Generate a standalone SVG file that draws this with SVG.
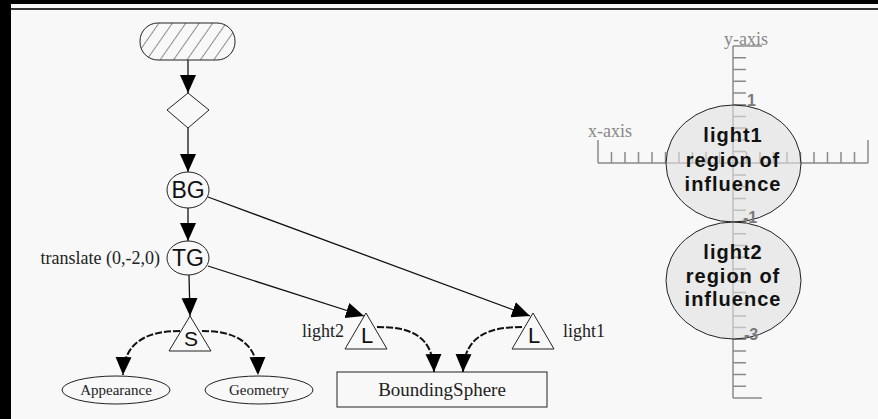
<svg xmlns="http://www.w3.org/2000/svg" width="878" height="419" viewBox="0 0 878 419">
<defs>
<pattern id="hatch" width="11" height="11" patternUnits="userSpaceOnUse" patternTransform="rotate(35)">
<line x1="0" y1="0" x2="0" y2="11" stroke="#222" stroke-width="1"/>
</pattern>
<marker id="arr" markerUnits="userSpaceOnUse" markerWidth="18" markerHeight="18" viewBox="0 0 18 16" refX="18" refY="8" orient="auto">
<path d="M0,0 L18,8 L0,16 Z" fill="#000"/>
</marker>
<style>
.n{fill:none;stroke:#222;stroke-width:1}
.e{fill:none;stroke:#111;stroke-width:1.3}
.d{fill:none;stroke:#111;stroke-width:2;stroke-dasharray:7 2}
.lbl{font-family:"Liberation Sans",Arial,sans-serif;fill:#111;text-anchor:middle}
.ser{font-family:"Liberation Serif","Times New Roman",serif;fill:#222}
.ax{fill:none;stroke:#8a8a8a;stroke-width:1.5}
.axt{font-family:"Liberation Serif","Times New Roman",serif;fill:#888;font-size:18px}
.num{font-family:"Liberation Sans",Arial,sans-serif;font-weight:bold;fill:#7a7a7a;font-size:16px}
.reg{fill:#dfe1df;fill-opacity:0.6;stroke:#222;stroke-width:1}
.rt{font-family:"Liberation Sans",Arial,sans-serif;font-weight:bold;font-size:20px;letter-spacing:1px;fill:#111;text-anchor:middle}
</style>
</defs>
<rect x="0" y="0" width="878" height="419" fill="#f8f8f8"/>
<rect x="0" y="0" width="878" height="4" fill="#000"/>
<rect x="0" y="0" width="11" height="419" fill="#000"/>
<line x1="11" y1="9" x2="878" y2="9" stroke="#333" stroke-width="2"/>

<g id="connectors">
<line class="e" x1="188" y1="60" x2="188" y2="93" marker-end="url(#arr)"/>
<line class="e" x1="188" y1="128" x2="188" y2="172" marker-end="url(#arr)"/>
<line class="e" x1="188" y1="208" x2="188" y2="241" marker-end="url(#arr)"/>
<line class="e" x1="189" y1="275" x2="190" y2="316" marker-end="url(#arr)"/>
<line class="e" x1="208" y1="266" x2="364" y2="316" marker-end="url(#arr)"/>
<line class="e" x1="208" y1="197" x2="530" y2="316" marker-end="url(#arr)"/>
<path class="d" d="M180,331 C150,331 124,340 123,375" marker-end="url(#arr)"/>
<path class="d" d="M202,331 C232,331 257,340 258,375" marker-end="url(#arr)"/>
<path class="d" d="M377,327 C410,327 433,335 434,372" marker-end="url(#arr)"/>
<path class="d" d="M522,327 C490,327 464,335 463,372" marker-end="url(#arr)"/>
</g>

<g id="start">
<rect x="140" y="23" width="95" height="37" rx="18" fill="url(#hatch)" stroke="#222" stroke-width="1"/>
</g>
<g id="diamond">
<polygon class="n" fill="#fff" points="188,93 209,110 188,128 167,110"/>
</g>
<g id="BG">
<ellipse cx="188" cy="190" rx="21" ry="18" fill="#f8f8f8" stroke="#222"/>
<text class="lbl" x="188" y="198" font-size="23">BG</text>
</g>
<g id="TG">
<ellipse cx="188" cy="258" rx="21" ry="17" fill="#f8f8f8" stroke="#222"/>
<text class="lbl" x="188" y="266" font-size="23">TG</text>
<text class="ser" x="160" y="264" font-size="18" text-anchor="end">translate (0,-2,0)</text>
</g>
<g id="S">
<polygon class="n" points="190,316 211,351 169,351"/>
<text class="lbl" x="191" y="346" font-size="21">S</text>
</g>
<g id="Appearance">
<ellipse class="n" cx="116" cy="390" rx="54" ry="14"/>
<text class="ser" x="116" y="395" font-size="15" text-anchor="middle">Appearance</text>
</g>
<g id="Geometry">
<ellipse class="n" cx="259" cy="390" rx="54" ry="14"/>
<text class="ser" x="259" y="395" font-size="15" text-anchor="middle">Geometry</text>
</g>
<g id="L2">
<polygon class="n" points="366,313 387,349 345,349"/>
<text class="lbl" x="367" y="343" font-size="22">L</text>
<text class="ser" x="344" y="337" font-size="18" text-anchor="end">light2</text>
</g>
<g id="L1">
<polygon class="n" points="533,313 554,349 512,349"/>
<text class="lbl" x="534" y="343" font-size="22">L</text>
<text class="ser" x="563" y="337" font-size="18">light1</text>
</g>
<g id="BoundingSphere">
<rect class="n" x="337" y="372" width="210" height="35"/>
<text class="ser" x="442" y="396" font-size="19" text-anchor="middle">BoundingSphere</text>
</g>

<g id="axes">
<path class="ax" d="M733,46 V398 M733,46 H762 M733,398 H762
M733,57.7 h13 M733,69.5 h13 M733,81.2 h13 M733,92.9 h13 M733,104.7 h13 M733,116.4 h13 M733,128.1 h13 M733,139.9 h13 M733,151.6 h13 M733,163.3 h13 M733,175.1 h13 M733,186.8 h13 M733,198.5 h13 M733,210.3 h13 M733,222 h13 M733,233.7 h13 M733,245.5 h13 M733,257.2 h13 M733,268.9 h13 M733,280.7 h13 M733,292.4 h13 M733,304.1 h13 M733,315.9 h13 M733,327.6 h13 M733,339.3 h13 M733,351.1 h13 M733,362.8 h13 M733,374.5 h13 M733,386.3 h13"/>
<path class="ax" d="M598,163 H868 M598,163 V140 M868,163 V140
M611.5,163 v-11 M625,163 v-11 M638.5,163 v-11 M652,163 v-11 M665.5,163 v-11 M679,163 v-11 M692.5,163 v-11 M706,163 v-11 M719.5,163 v-11 M746.5,163 v-11 M760,163 v-11 M773.5,163 v-11 M787,163 v-11 M800.5,163 v-11 M814,163 v-11 M827.5,163 v-11 M841,163 v-11 M854.5,163 v-11"/>
<text class="axt" x="588" y="137">x-axis</text>
<text class="axt" x="724" y="45">y-axis</text>
</g>
<g id="region1">
<ellipse class="reg" cx="733.5" cy="163.5" rx="67.5" ry="58.5"/>
<text class="rt" x="733" y="142">light1</text>
<text class="rt" x="733" y="167">region of</text>
<text class="rt" x="733" y="191">influence</text>
</g>
<g id="region2">
<ellipse class="reg" cx="733.5" cy="280.5" rx="67.5" ry="58.5"/>
<text class="rt" x="733" y="259">light2</text>
<text class="rt" x="733" y="283">region of</text>
<text class="rt" x="733" y="306">influence</text>
</g>
<g id="axis-numbers">
<text class="num" x="747" y="106">1</text>
<text class="num" x="743" y="223">-1</text>
<text class="num" x="744" y="340">-3</text>
</g>
</svg>
